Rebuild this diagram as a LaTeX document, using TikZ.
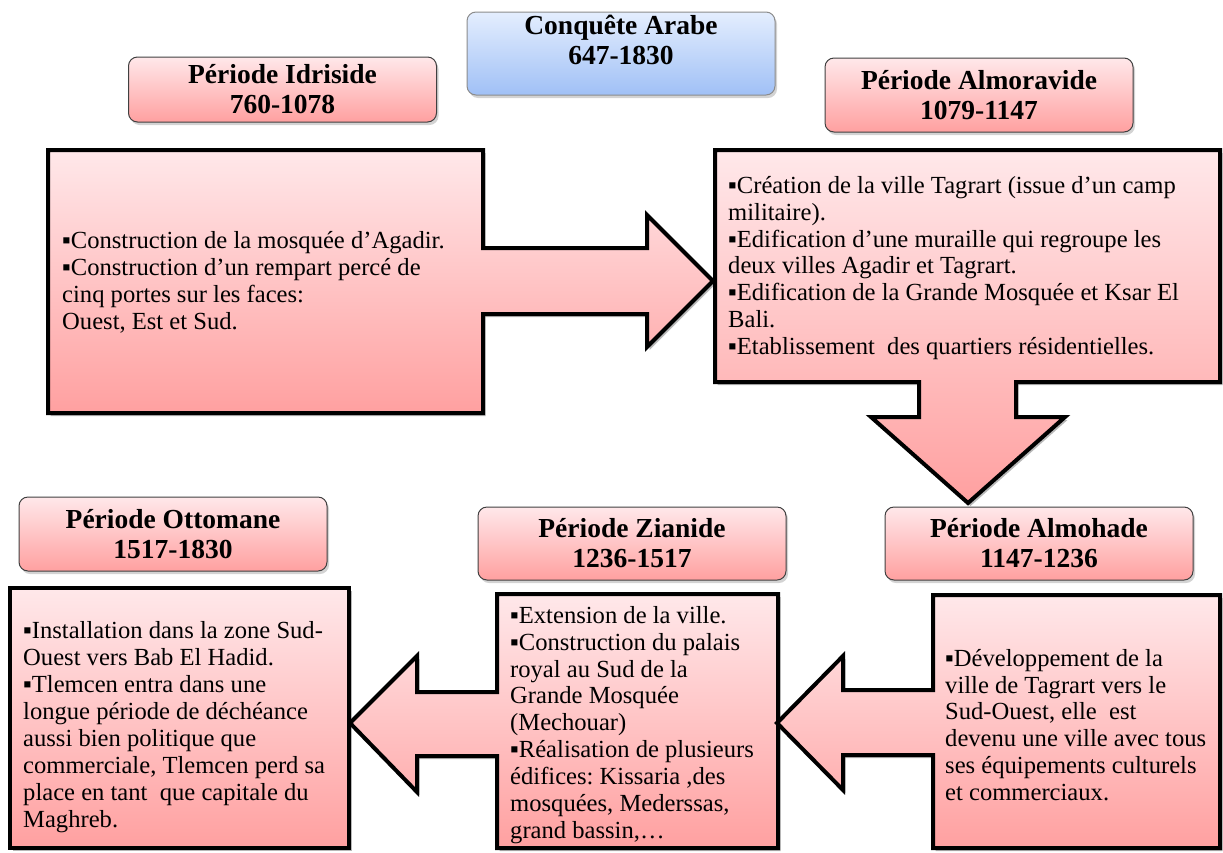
\documentclass[tikz,border=0pt]{standalone}
\usepackage{fontspec}
\setmainfont{Liberation Serif}
\usetikzlibrary{shadows}
\definecolor{pinkT}{RGB}{255,232,234}
\definecolor{pinkB}{RGB}{255,160,160}
\definecolor{blueT}{RGB}{228,238,254}
\definecolor{blueB}{RGB}{160,192,246}
\tikzset{
  hdr/.style={draw=black!75, line width=1pt, rounded corners=9pt,
    top color=pinkT, bottom color=pinkB, minimum width=308pt,
    drop shadow={shadow xshift=2pt, shadow yshift=-3pt, opacity=0.35}},
  hdrblue/.style={hdr, top color=blueT, bottom color=blueB, draw=black!45},
  title/.style={align=center, inner sep=0pt, font=\fontsize{27.5}{30}\selectfont\bfseries},
  callout/.style={draw=black, line width=4pt, line join=miter,
    top color=pinkT, bottom color=pinkB,
    preaction={fill=black, opacity=0.28, transform canvas={shift={(2.5pt,-3pt)}}}},
  body/.style={align=left, anchor=west, inner sep=0pt, font=\fontsize{24.6}{26.9}\selectfont}
}
\frenchspacing
\begin{document}
\frenchspacing
\begin{tikzpicture}[x=1pt,y=-1pt]
\useasboundingbox (0,0) rectangle (1223,852);
% callout shapes
\path[callout] (10,588) rectangle (349,848);
\path[callout] (497,594) -- (778,594) -- (778,848) -- (497,848) -- (497,756) -- (417,756)
  -- (417,792) -- (350,723) -- (417,656) -- (417,692) -- (497,692) -- cycle;
\path[callout] (933,595) -- (1220,595) -- (1220,848) -- (933,848) -- (933,755) -- (843,755)
  -- (843,790) -- (777,723) -- (843,656) -- (843,690) -- (933,690) -- cycle;
\path[callout] (48,150) -- (483,150) -- (483,248) -- (647,248) -- (647,215) -- (713,281)
  -- (647,347) -- (647,314) -- (483,314) -- (483,413) -- (48,413) -- cycle;
\path[callout] (715,150) -- (1220,150) -- (1220,382) -- (1016,382) -- (1016,417) -- (1065,417)
  -- (968,503) -- (871,417) -- (919,417) -- (919,382) -- (715,382) -- cycle;
% headers
\node[hdrblue, minimum height=83pt] (conq) at (621,53.5) {};
\node[title] (conqT) at (621,40) {Conquête Arabe\\647-1830};
\node[hdr, minimum height=65pt, title] (idr) at (282.5,89.5) {Période Idriside\\760-1078};
\node[hdr, minimum height=74pt, title] (almor) at (979,95) {Période Almoravide\\1079-1147};
\node[hdr, minimum height=73pt, title] (almoh) at (1039,543.5) {Période Almohade\\1147-1236};
\node[hdr, minimum height=73pt, title] (zian) at (632,543.5) {Période Zianide\\1236-1517};
\node[hdr, minimum height=74pt, title] (otto) at (173,534) {Période Ottomane\\1517-1830};
% texts
\node[body] (idrT) at (62,282) {▪Construction de la mosquée d’Agadir.\\▪Construction d’un rempart percé de\\cinq portes sur les faces:\\Ouest, Est et Sud.};
\node[body] (almorT) at (728,268) {▪Création de la ville Tagrart (issue d’un camp\\militaire).\\▪Edification d’une muraille qui regroupe les\\deux villes Agadir et Tagrart.\\▪Edification de la Grande Mosquée et Ksar El\\Bali.\\▪Etablissement~~des quartiers résidentielles.};
\node[body] (almohT) at (945,725) {▪Développement de la\\ville de Tagrart vers le\\Sud-Ouest, elle~~est\\devenu une ville avec tous\\ses équipements culturels\\et commerciaux.};
\node[body] (zianT) at (510,725) {▪Extension de la ville.\\▪Construction du palais\\royal au Sud de la\\Grande Mosquée\\(Mechouar)\\▪Réalisation de plusieurs\\édifices: Kissaria ,des\\mosquées, Mederssas,\\grand bassin,…};
\node[body] (ottoT) at (23,727) {▪Installation dans la zone Sud-\\Ouest vers Bab El Hadid.\\▪Tlemcen entra dans une\\longue période de déchéance\\aussi bien politique que\\commerciale, Tlemcen perd sa\\place en tant~~que capitale du\\Maghreb.};
\end{tikzpicture}
\end{document}
